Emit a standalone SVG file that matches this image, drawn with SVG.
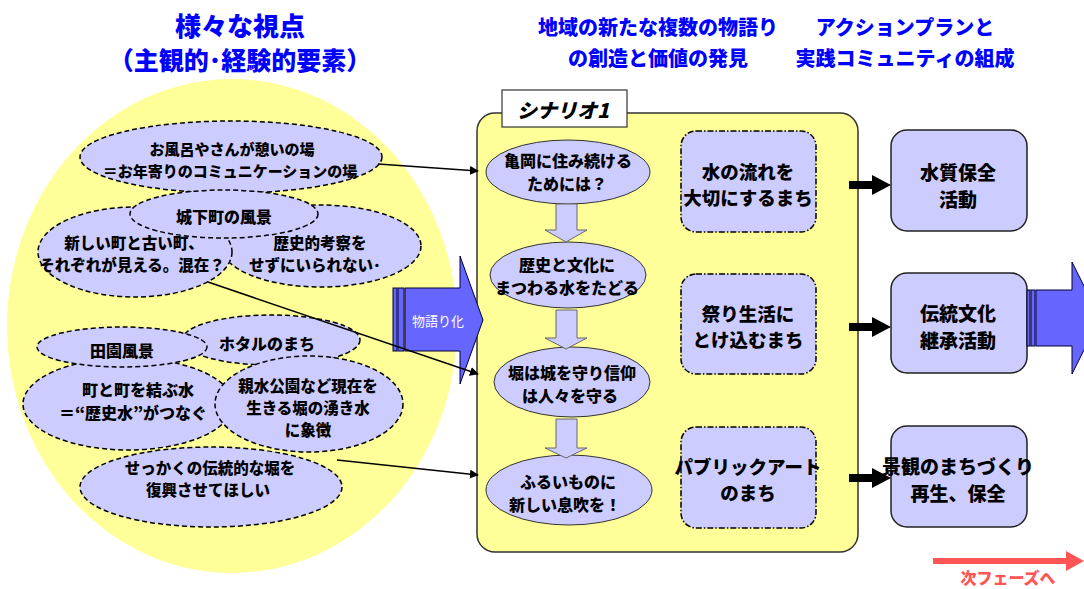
<svg xmlns="http://www.w3.org/2000/svg" width="1084" height="589" viewBox="0 0 1084 589">
<defs>
<style>
.t{font-family:"Noto Sans CJK JP","Noto Sans",sans-serif;font-weight:900;text-anchor:middle;dominant-baseline:central;fill:#000}
.ttl{font-family:"Noto Sans CJK JP","Noto Sans",sans-serif;font-weight:900;text-anchor:middle;dominant-baseline:central;fill:#0000ff}
.de{fill:#ccccff;stroke:#000;stroke-width:1.5;stroke-dasharray:5 3}
.dr{fill:#ccccff;stroke:#000;stroke-width:1.5;stroke-dasharray:6 2 1.5 2}
.se{fill:#ccccff;stroke:#333;stroke-width:1}
.ab{fill:#ccccff;stroke:#222;stroke-width:1.5}
.da{fill:#ccccff;stroke:#666;stroke-width:1}
.blue{fill:#6666ff;stroke:#000033;stroke-width:1}
.ln{stroke:#000;stroke-width:1.5;fill:none;marker-end:url(#ah)}
.fat{fill:#000}
</style>
<marker id="ah" viewBox="0 0 10 10" refX="9" refY="5" markerWidth="6" markerHeight="6" orient="auto" markerUnits="strokeWidth">
<path d="M0,0 L10,5 L0,10 Z" fill="#000"/>
</marker>
</defs>
<rect width="1084" height="589" fill="#fff"/>

<!-- titles -->
<g id="title-left">
<text class="ttl" x="240" y="24" font-size="26">様々な視点</text>
<text class="ttl" x="240" y="59" font-size="25">（主観的･経験的要素）</text>
</g>
<g id="title-mid">
<text class="ttl" x="658" y="26" font-size="20">地域の新たな複数の物語り</text>
<text class="ttl" x="658" y="57" font-size="20">の創造と価値の発見</text>
</g>
<g id="title-right">
<text class="ttl" x="905" y="26" font-size="20">アクションプランと</text>
<text class="ttl" x="905" y="57" font-size="20">実践コミュニティの組成</text>
</g>

<!-- big yellow circle -->
<ellipse id="viewpoint-area" cx="232" cy="326" rx="225" ry="247" fill="#ffff99"/>

<!-- left viewpoint ellipses -->
<g id="n-ofuro"><ellipse class="de" cx="231" cy="157" rx="151" ry="36"/>
<text class="t" x="232" y="148" font-size="15">お風呂やさんが憩いの場</text>
<text class="t" x="230" y="170" font-size="15">＝お年寄りのコミュニケーションの場</text></g>
<g id="n-rekishi"><ellipse class="de" cx="321" cy="246" rx="100" ry="41"/>
<text class="t" x="320" y="242" font-size="15.5">歴史的考察を</text>
<text class="t" x="315" y="264" font-size="15.5">せずにいられない･</text></g>
<g id="n-atarashii"><ellipse class="de" cx="135" cy="252" rx="97" ry="45"/>
<text class="t" x="134" y="242" font-size="15.5">新しい町と古い町、</text>
<text class="t" x="132" y="264" font-size="15.5">それぞれが見える。混在？</text></g>
<g id="n-jokamachi"><ellipse class="de" cx="224" cy="214" rx="94" ry="24"/>
<text class="t" x="224" y="216" font-size="16">城下町の風景</text></g>

<g id="n-hotaru"><ellipse class="de" cx="271" cy="340" rx="89" ry="25"/>
<text class="t" x="267" y="343" font-size="16">ホタルのまち</text></g>
<g id="n-machi"><ellipse class="de" cx="128" cy="404" rx="105" ry="46"/>
<text class="t" x="138" y="389" font-size="16">町と町を結ぶ水</text>
<text class="t" x="133" y="412" font-size="16">＝“歴史水”がつなぐ</text></g>
<g id="n-denen"><ellipse class="de" cx="122" cy="347" rx="85" ry="20"/>
<text class="t" x="122" y="350" font-size="16">田園風景</text></g>
<g id="n-shinsui"><ellipse class="de" cx="309" cy="404" rx="94" ry="48"/>
<text class="t" x="308" y="385" font-size="15.5">親水公園など現在を</text>
<text class="t" x="308" y="407" font-size="15.5">生きる堀の湧き水</text>
<text class="t" x="308" y="429" font-size="15.5">に象徴</text></g>
<g id="n-sekkaku"><ellipse class="de" cx="211" cy="487" rx="131" ry="40"/>
<text class="t" x="210" y="467" font-size="15.5">せっかくの伝統的な堀を</text>
<text class="t" x="208" y="489" font-size="15.5">復興させてほしい</text></g>

<!-- scenario box -->
<g id="scenario1">
<rect x="477" y="113" width="381" height="439" rx="18" fill="#ffff99" stroke="#333" stroke-width="1.5"/>
<rect x="502" y="90" width="125" height="37" fill="#fff" stroke="#333" stroke-width="1.2"/>
<text class="t" x="563" y="109" font-size="20" font-style="italic">シナリオ1</text>
</g>

<g id="s-kameoka"><ellipse class="se" cx="568" cy="172" rx="82" ry="32"/>
<text class="t" x="568" y="160" font-size="16">亀岡に住み続ける</text>
<text class="t" x="567" y="183" font-size="16">ためには？</text></g>
<g id="s-rekishi"><ellipse class="se" cx="568" cy="275" rx="78" ry="33"/>
<text class="t" x="567" y="264" font-size="16">歴史と文化に</text>
<text class="t" x="567" y="287" font-size="16">まつわる水をたどる</text></g>
<g id="s-hori"><ellipse class="se" cx="572" cy="382" rx="78" ry="35"/>
<text class="t" x="572" y="372" font-size="16">堀は城を守り信仰</text>
<text class="t" x="570" y="395" font-size="16">は人々を守る</text></g>
<g id="s-furui"><ellipse class="se" cx="569" cy="490" rx="83" ry="35"/>
<text class="t" x="568" y="481" font-size="16">ふるいものに</text>
<text class="t" x="565" y="504" font-size="16">新しい息吹を！</text></g>

<g id="r-mizu"><rect class="dr" x="681" y="131" width="135" height="101" rx="15"/>
<text class="t" x="748" y="171" font-size="18.5">水の流れを</text>
<text class="t" x="748" y="197" font-size="18.5">大切にするまち</text></g>
<g id="r-matsuri"><rect class="dr" x="681" y="274" width="135" height="100" rx="15"/>
<text class="t" x="748" y="313" font-size="18.5">祭り生活に</text>
<text class="t" x="748" y="339" font-size="18.5">とけ込むまち</text></g>
<g id="r-art"><rect class="dr" x="681" y="427" width="135" height="101" rx="15"/>
<text class="t" x="748" y="466" font-size="18.5">パブリックアート</text>
<text class="t" x="748" y="492" font-size="18.5">のまち</text></g>

<!-- action boxes -->
<g id="a-suishitsu"><rect class="ab" x="891" y="130" width="136" height="101" rx="16"/>
<text class="t" x="958" y="171" font-size="19">水質保全</text>
<text class="t" x="958" y="198" font-size="19">活動</text></g>
<g id="a-dento"><rect class="ab" x="891" y="273" width="136" height="100" rx="16"/>
<text class="t" x="958" y="312" font-size="19">伝統文化</text>
<text class="t" x="958" y="339" font-size="19">継承活動</text></g>
<g id="a-keikan"><rect class="ab" x="891" y="426" width="136" height="101" rx="16"/>
<text class="t" x="958" y="465" font-size="19">景観のまちづくり</text>
<text class="t" x="958" y="492" font-size="19">再生、保全</text></g>

<!-- storytelling arrow -->
<g id="monogatari-arrow">
<rect class="blue" x="393" y="288" width="4" height="63"/>
<rect class="blue" x="398" y="288" width="6" height="63"/>
<path class="blue" d="M405,288 H460 V256 L483,320 L460,384 V351 H405 Z"/>
<text x="438" y="320" font-size="13" fill="#fff" text-anchor="middle" dominant-baseline="central" font-family="'Noto Sans CJK JP','Noto Sans',sans-serif">物語り化</text>
</g>

<!-- next phase arrow -->
<g id="next-arrow">
<rect class="blue" x="1027" y="290" width="3" height="56"/>
<rect class="blue" x="1031" y="290" width="4" height="56"/>
<path class="blue" d="M1036,290 H1072 V262 L1100,318 L1072,374 V346 H1036 Z"/>
</g>

<g id="connectors">
<line class="ln" x1="378" y1="164" x2="478" y2="171"/>
<line class="ln" x1="208" y1="282" x2="478" y2="374"/>
<line class="ln" x1="337" y1="460" x2="478" y2="475"/>
<path class="da" d="M556,204 H577 V230 H587 L566,242 L545,230 H556 Z"/>
<path class="da" d="M556,310 H577 V338 H587 L566,349 L545,338 H556 Z"/>
<path class="da" d="M556,419 H577 V448 H587 L566,458 L545,448 H556 Z"/>
<path class="fat" d="M849,181 H872 V175 L891,185 L872,195 V189 H849 Z"/>
<path class="fat" d="M849,323 H872 V317 L891,327 L872,337 V331 H849 Z"/>
<path class="fat" d="M849,474 H872 V468 L891,478 L872,488 V482 H849 Z"/>
</g>

<g id="next-phase">
<rect x="933" y="558" width="136" height="6" fill="#ff5555"/>
<path d="M1066,551 L1084,561 L1066,571 Z" fill="#ff5555"/>
<text x="1008" y="577" font-size="16" font-weight="900" fill="#ff5555" text-anchor="middle" dominant-baseline="central" font-family="'Noto Sans CJK JP','Noto Sans',sans-serif">次フェーズへ</text>
</g>
</svg>
